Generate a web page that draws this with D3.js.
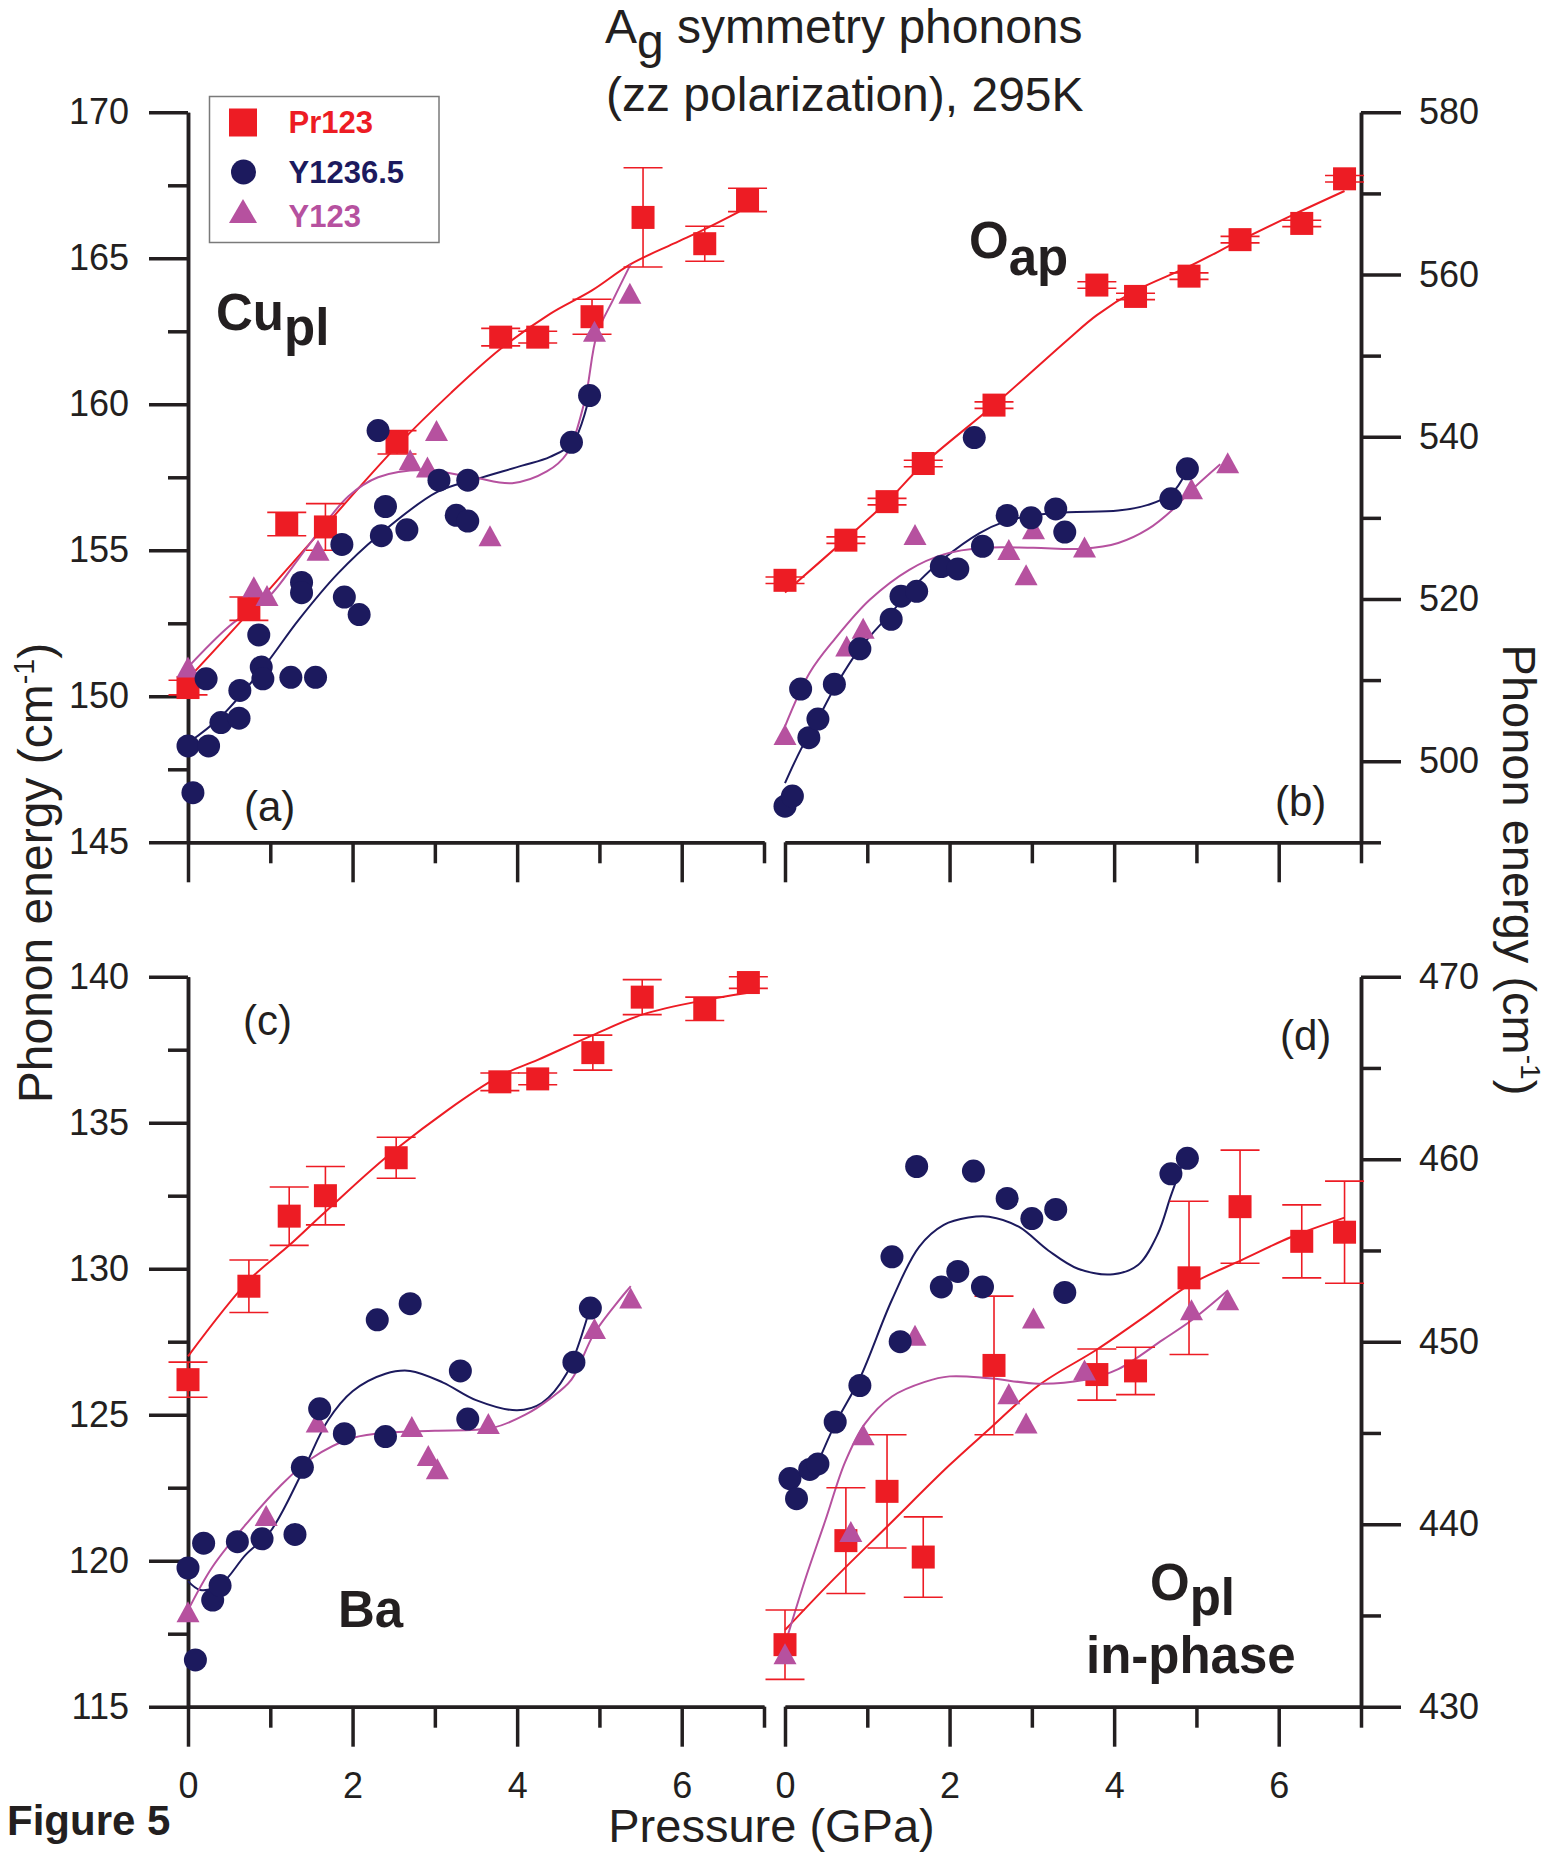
<!DOCTYPE html>
<html>
<head>
<meta charset="utf-8">
<script src="https://cdn.jsdelivr.net/npm/d3@7"></script>
<style>
  body { margin: 0; background: #fff; }
  svg { display: block; }
  svg text { font-family: 'Liberation Sans', Arial, Helvetica, sans-serif; }
</style>
</head>
<body>
<div class="canvas"></div>
<script>
// pressure ticks (GPa), shared by all panels
const pressureMajor = [0, 2, 4, 6];
const pressureMinor = [1, 3, 5, 7];

// energy ticks (cm-1)
const cuMajor = [145, 150, 155, 160, 165, 170];
const cuMinor = [147.5, 152.5, 157.5, 162.5, 167.5];
const apMajor = [500, 520, 540, 560, 580];
const apMinor = [490, 510, 530, 550, 570];
const baMajor = [115, 120, 125, 130, 135, 140];
const baMinor = [117.5, 122.5, 127.5, 132.5, 137.5];
const plMajor = [430, 440, 450, 460, 470];
const plMinor = [435, 445, 455, 465];

const seriesNames = ['Pr123', 'Y1236.5', 'Y123'];

// (a) Cu_pl : [pressure, energy, error]
const cuPr123 = [[0, 150.3, 0.25], [0.74, 153.0, 0.4], [1.2, 155.9, 0.4], [1.67, 155.8, 0.8], [2.54, 158.7, 0.4], [3.8, 162.3, 0.3], [4.25, 162.3, 0.2], [4.91, 163.0, 0.6], [5.53, 166.4, 1.7], [6.28, 165.5, 0.6], [6.8, 167.0, 0.4]];
const cuY1236 = [[0, 148.3], [0.06, 146.7], [0.22, 150.6], [0.25, 148.3], [0.4, 149.1], [0.62, 149.25], [0.63, 150.2], [0.86, 152.1], [0.89, 151.0], [0.91, 150.6], [1.25, 150.65], [1.38, 153.9], [1.38, 153.55], [1.55, 150.65], [1.87, 155.2], [1.9, 153.4], [2.08, 152.8], [2.31, 159.1], [2.35, 155.5], [2.4, 156.5], [2.66, 155.7], [3.05, 157.4], [3.26, 156.2], [3.4, 156.0], [3.4, 157.4], [4.66, 158.7], [4.88, 160.3]];
const cuY123 = [[0, 151.0], [0.8, 153.75], [0.96, 153.45], [1.58, 155.0], [2.7, 158.1], [2.91, 157.85], [3.02, 159.1], [3.67, 155.5], [4.94, 162.5], [5.37, 163.8]];
const cuPr123Fit = [[0, 150.6], [0.75, 152.9], [1.5, 155.3], [2.55, 158.6], [3.2, 160.4], [3.8, 161.9], [4.4, 163.1], [4.91, 163.9], [5.38, 164.8], [5.9, 165.5], [6.28, 166.0], [6.7, 166.6]];
const cuY1236Fit = [[0, 148.4], [0.4, 149.3], [0.92, 151.0], [1.34, 152.6], [1.82, 154.2], [2.31, 155.5], [3.03, 157.0], [3.52, 157.45], [4.06, 157.9], [4.4, 158.2], [4.68, 158.7], [4.88, 160.3]];
const cuY123Fit = [[0, 151.0], [0.5, 152.4], [0.98, 153.4], [1.34, 154.7], [1.58, 155.6], [1.95, 156.85], [2.31, 157.5], [2.85, 157.75], [3.46, 157.5], [3.94, 157.3], [4.36, 157.7], [4.6, 158.3], [4.82, 160.1], [4.97, 162.4], [5.17, 163.6], [5.38, 164.8]];

// (b) O_ap
const apPr123 = [[0, 522.3, 0.4], [0.74, 527.25, 0.4], [1.24, 532.0, 0.4], [1.68, 536.7, 0.4], [2.54, 543.9, 0.4], [3.79, 558.7, 0.4], [4.26, 557.3, 0.4], [4.91, 559.8, 0.4], [5.53, 564.3, 0.4], [6.28, 566.3, 0.4], [6.8, 571.8, 0.4]];
const apY1236 = [[0, 494.45], [0.09, 495.7], [0.19, 508.9], [0.29, 502.9], [0.4, 505.2], [0.6, 509.5], [0.91, 513.85], [1.29, 517.5], [1.41, 520.35], [1.6, 520.95], [1.9, 524.0], [2.1, 523.7], [2.3, 539.9], [2.4, 526.5], [2.7, 530.3], [2.99, 530.0], [3.29, 531.1], [3.4, 528.25], [4.69, 532.35], [4.89, 536.05]];
const apY123 = [[0, 503.3], [0.75, 514.2], [0.95, 516.4], [1.58, 527.95], [2.72, 526.1], [2.93, 523.0], [3.02, 528.65], [3.64, 526.4], [4.94, 533.6], [5.38, 536.8]];
const apPr123Fit = [[0, 520.8], [0.74, 527.4], [1.24, 532.0], [1.68, 536.6], [2.54, 543.9], [3.44, 552.0], [3.79, 555.0], [4.26, 558.0], [4.91, 561.0], [5.53, 564.2], [6.16, 567.3], [6.8, 570.3]];
const apY1236Fit = [[0, 497.3], [0.19, 501.4], [0.4, 505.2], [0.6, 509.0], [0.91, 513.9], [1.29, 518.3], [1.63, 522.2], [1.93, 525.0], [2.36, 528.1], [2.66, 529.5], [2.99, 530.3], [3.44, 530.7], [4.05, 530.9], [4.41, 531.6], [4.69, 532.9], [4.89, 535.9]];
const apY123Fit = [[0, 504.3], [0.3, 510.9], [0.6, 515.0], [1.03, 519.9], [1.51, 523.6], [1.93, 525.5], [2.42, 526.3], [3.02, 526.3], [3.62, 526.2], [4.05, 526.9], [4.41, 528.6], [4.71, 531.0], [4.95, 533.5], [5.29, 536.6]];

// (c) Ba
const baPr123 = [[0, 126.2, 0.6], [0.74, 129.4, 0.9], [1.23, 131.8, 1.0], [1.67, 132.5, 1.0], [2.53, 133.8, 0.7], [3.79, 136.4, 0.3], [4.25, 136.5, 0.2], [4.92, 137.4, 0.6], [5.52, 139.3, 0.6], [6.28, 138.9, 0.4], [6.81, 139.8, 0.2]];
const baY1236 = [[0, 119.75], [0.09, 116.6], [0.19, 120.6], [0.3, 118.65], [0.39, 119.15], [0.6, 120.65], [0.9, 120.75], [1.3, 120.9], [1.39, 123.2], [1.6, 125.2], [1.9, 124.35], [2.3, 128.25], [2.4, 124.25], [2.7, 128.8], [3.31, 126.5], [3.4, 124.85], [4.69, 126.8], [4.89, 128.65]];
const baY123 = [[0, 118.25], [0.95, 121.55], [1.57, 124.75], [2.72, 124.6], [2.92, 123.6], [3.03, 123.15], [3.65, 124.7], [4.94, 127.95], [5.38, 129.0]];
const baPr123Fit = [[0, 127.0], [0.74, 129.6], [1.23, 130.8], [1.67, 131.95], [2.53, 134.1], [3.76, 136.55], [4.25, 137.15], [4.92, 138.0], [5.52, 138.7], [6.28, 139.2], [6.81, 139.45]];
const baY1236Fit = [[0, 119.3], [0.15, 119.0], [0.4, 119.2], [0.7, 120.2], [1.0, 121.0], [1.4, 123.1], [1.7, 124.8], [2.0, 125.8], [2.4, 126.4], [2.7, 126.5], [3.1, 126.1], [3.5, 125.5], [4.0, 125.15], [4.3, 125.4], [4.6, 126.4], [4.88, 128.6]];
const baY123Fit = [[0, 118.3], [0.3, 119.8], [0.75, 121.4], [1.1, 122.5], [1.5, 123.5], [2.0, 124.2], [2.5, 124.4], [3.0, 124.45], [3.7, 124.55], [4.1, 125.0], [4.4, 125.55], [4.66, 126.2], [4.94, 127.8], [5.38, 129.4]];

// (d) O_pl in-phase
const plPr123 = [[0, 433.4, 1.9], [0.74, 439.1, 2.9], [1.24, 441.8, 3.1], [1.68, 438.2, 2.2], [2.54, 448.7, 3.8], [3.79, 448.2, 1.4], [4.26, 448.4, 1.3], [4.91, 453.5, 4.2], [5.53, 457.4, 3.1], [6.28, 455.5, 2.0], [6.8, 456.0, 2.8]];
const plY1236 = [[0.06, 442.5], [0.14, 441.4], [0.3, 443.0], [0.4, 443.3], [0.61, 445.6], [0.91, 447.6], [1.3, 454.65], [1.4, 450.0], [1.6, 459.6], [1.9, 453.0], [2.1, 453.85], [2.29, 459.35], [2.4, 453.0], [2.7, 457.85], [3.0, 456.75], [3.29, 457.25], [3.4, 452.7], [4.69, 459.2], [4.89, 460.05]];
const plY123 = [[0, 432.9], [0.8, 439.6], [0.95, 444.9], [1.58, 450.35], [2.72, 447.15], [2.93, 445.55], [3.02, 451.3], [3.64, 448.45], [4.94, 451.75], [5.38, 452.3]];
const plPr123Fit = [[0, 434.2], [0.55, 436.8], [1.27, 440.0], [1.99, 443.2], [2.48, 445.2], [3.08, 447.6], [3.8, 449.6], [4.41, 451.5], [4.91, 453.1], [5.56, 454.5], [6.16, 455.75], [6.8, 456.8]];
const plY1236Fit = [[0.33, 442.6], [0.6, 445.4], [0.91, 448.0], [1.3, 452.3], [1.63, 455.2], [1.93, 456.4], [2.23, 456.8], [2.48, 456.85], [2.84, 456.3], [3.2, 455.0], [3.56, 454.0], [3.99, 453.7], [4.29, 454.2], [4.53, 455.9], [4.69, 458.0], [4.85, 460.0]];
const plY123Fit = [[0, 433.4], [0.24, 436.9], [0.49, 440.2], [0.73, 443.4], [0.97, 445.5], [1.3, 447.0], [1.7, 447.8], [2.0, 448.1], [2.48, 448.0], [3.08, 447.7], [3.63, 447.9], [4.05, 448.5], [4.59, 450.1], [4.95, 451.2], [5.38, 452.8]];

// ---------------------------------------------------------------

const W = 1551, H = 1854;
const ink = '#231f20';
const color = d3.scaleOrdinal().domain(seriesNames).range(['#ed1c24', '#1c1a5e', '#b6519f']);

const svg = d3.select('.canvas').append('svg').attr('width', W).attr('height', H);
svg.append('rect').attr('width', W).attr('height', H).attr('fill', '#fff');

const frame = {
  top: [842.3, 112.3], bottom: [1706.7, 976.7],
  left: [188, 764], right: [785, 1361]
};

const panels = [
  { tag: '(a)', tagAt: [244, 821], xr: frame.left, yr: frame.top, domain: [145, 170], major: cuMajor, minor: cuMinor, side: 'left', xLabels: false,
    pr: cuPr123, prFit: cuPr123Fit, y65: cuY1236, y65Fit: cuY1236Fit, y7: cuY123, y7Fit: cuY123Fit },
  { tag: '(b)', tagAt: [1275, 816], xr: frame.right, yr: frame.top, domain: [490, 580], major: apMajor, minor: apMinor, side: 'right', xLabels: false,
    pr: apPr123, prFit: apPr123Fit, y65: apY1236, y65Fit: apY1236Fit, y7: apY123, y7Fit: apY123Fit },
  { tag: '(c)', tagAt: [243, 1035], xr: frame.left, yr: frame.bottom, domain: [115, 140], major: baMajor, minor: baMinor, side: 'left', xLabels: true,
    pr: baPr123, prFit: baPr123Fit, y65: baY1236, y65Fit: baY1236Fit, y7: baY123, y7Fit: baY123Fit },
  { tag: '(d)', tagAt: [1280, 1050], xr: frame.right, yr: frame.bottom, domain: [430, 470], major: plMajor, minor: plMinor, side: 'right', xLabels: true,
    pr: plPr123, prFit: plPr123Fit, y65: plY1236, y65Fit: plY1236Fit, y7: plY123, y7Fit: plY123Fit }
];

const styleAxis = sel => {
  sel.attr('font-family', null).attr('font-size', null);
  sel.select('.domain').attr('stroke', ink).attr('stroke-width', 3.5);
  sel.selectAll('.tick line').attr('stroke', ink).attr('stroke-width', 3.5);
  sel.selectAll('.tick text').attr('font-size', 36).attr('fill', ink);
};

const triangle = (cx, cy, w, h) => `M${cx},${cy - h / 2}L${cx + w / 2},${cy + h / 2}L${cx - w / 2},${cy + h / 2}Z`;

const drawPanel = p => {
  const x = d3.scaleLinear().domain([0, 7]).range(p.xr);
  const y = d3.scaleLinear().domain(p.domain).range(p.yr);
  const g = svg.append('g');

  // pressure axis
  g.append('g').attr('transform', `translate(0,${p.yr[0]})`)
    .call(d3.axisBottom(x).tickValues(pressureMinor).tickSize(21).tickSizeOuter(0).tickFormat(''))
    .call(styleAxis);
  g.append('g').attr('transform', `translate(0,${p.yr[0]})`)
    .call(d3.axisBottom(x).tickValues(pressureMajor).tickSize(40).tickSizeOuter(0).tickPadding(26)
      .tickFormat(p.xLabels ? d3.format('d') : ''))
    .call(styleAxis);

  // energy axis
  if (p.side === 'left') {
    g.append('g').attr('transform', `translate(${p.xr[0]},0)`)
      .call(d3.axisLeft(y).tickValues(p.minor).tickSize(20).tickSizeOuter(0).tickFormat(''))
      .call(styleAxis);
    g.append('g').attr('transform', `translate(${p.xr[0]},0)`)
      .call(d3.axisLeft(y).tickValues(p.major).tickSize(39).tickSizeOuter(0).tickPadding(20).tickFormat(d3.format('d')))
      .call(styleAxis);
  } else {
    g.append('g').attr('transform', `translate(${p.xr[1]},0)`)
      .call(d3.axisRight(y).tickValues(p.minor).tickSize(20).tickSizeOuter(0).tickFormat(''))
      .call(styleAxis);
    g.append('g').attr('transform', `translate(${p.xr[1]},0)`)
      .call(d3.axisRight(y).tickValues(p.major).tickSize(40).tickSizeOuter(0).tickPadding(18).tickFormat(d3.format('d')))
      .call(styleAxis);
  }

  // fitted curves
  const line = d3.line().x(d => x(d[0])).y(d => y(d[1])).curve(d3.curveCatmullRom.alpha(0.5));
  [[p.prFit, 'Pr123'], [p.y65Fit, 'Y1236.5'], [p.y7Fit, 'Y123']].forEach(([pts, name]) => {
    g.append('path').attr('d', line(pts)).attr('fill', 'none')
      .attr('stroke', color(name)).attr('stroke-width', 2);
  });

  // Pr123 error bars
  const red = color('Pr123');
  const bars = g.append('g').attr('stroke', red).attr('stroke-width', 1.6);
  bars.selectAll('line.v').data(p.pr).join('line').attr('class', 'v')
    .attr('x1', d => x(d[0])).attr('x2', d => x(d[0]))
    .attr('y1', d => y(d[1] - d[2])).attr('y2', d => y(d[1] + d[2]));
  bars.selectAll('line.cap').data(p.pr.flatMap(d => [[d[0], d[1] - d[2]], [d[0], d[1] + d[2]]])).join('line').attr('class', 'cap')
    .attr('x1', d => x(d[0]) - 19.5).attr('x2', d => x(d[0]) + 19.5)
    .attr('y1', d => y(d[1])).attr('y2', d => y(d[1]));

  // Pr123 squares
  g.selectAll('rect.pr').data(p.pr).join('rect').attr('class', 'pr')
    .attr('x', d => x(d[0]) - 11.5).attr('y', d => y(d[1]) - 11.5)
    .attr('width', 23).attr('height', 23).attr('fill', red);

  // Y123 triangles
  g.selectAll('path.y7').data(p.y7).join('path').attr('class', 'y7')
    .attr('d', d => triangle(x(d[0]), y(d[1]), 23, 21)).attr('fill', color('Y123'));

  // Y1236.5 circles
  g.selectAll('circle.y65').data(p.y65).join('circle').attr('class', 'y65')
    .attr('cx', d => x(d[0])).attr('cy', d => y(d[1])).attr('r', 11.5).attr('fill', color('Y1236.5'));

  // panel tag
  g.append('text').attr('x', p.tagAt[0]).attr('y', p.tagAt[1])
    .attr('font-size', 42).attr('fill', ink).text(p.tag);
};

panels.forEach(drawPanel);

// mode names
const modeLabel = (x, y, main, sub, dy) => {
  const t = svg.append('text').attr('x', x).attr('y', y)
    .attr('font-size', 51).attr('font-weight', 'bold').attr('fill', ink);
  t.append('tspan').text(main);
  if (sub) t.append('tspan').attr('dy', dy).text(sub);
  return t;
};
modeLabel(216, 330, 'Cu', 'pl', 15);
modeLabel(969, 258, 'O', 'ap', 17);
modeLabel(338, 1627, 'Ba');
modeLabel(1150, 1600, 'O', 'pl', 15);
modeLabel(1086, 1673, 'in-phase');

// title
const title = svg.append('g').attr('fill', ink).attr('font-size', 48);
const t1 = title.append('text').attr('x', 605).attr('y', 43);
t1.append('tspan').text('A');
t1.append('tspan').attr('dy', 15).text('g');
t1.append('tspan').attr('dy', -15).text(' symmetry phonons');
title.append('text').attr('x', 606).attr('y', 111).text('(zz polarization), 295K');

// axis titles
const energyTitle = (tx, ty, rot, size) => {
  const t = svg.append('text')
    .attr('transform', `translate(${tx},${ty}) rotate(${rot})`)
    .attr('text-anchor', 'middle').attr('font-size', size).attr('fill', ink);
  t.append('tspan').text('Phonon energy (cm');
  t.append('tspan').attr('font-size', size * 0.6).attr('dy', -size * 0.38).text('-1');
  t.append('tspan').attr('dy', size * 0.38).text(')');
};
energyTitle(52, 873, -90, 48);
energyTitle(1503, 870, 90, 47);

svg.append('text').attr('x', 771.5).attr('y', 1842).attr('text-anchor', 'middle')
  .attr('font-size', 47).attr('fill', ink).text('Pressure (GPa)');

svg.append('text').attr('x', 7).attr('y', 1835)
  .attr('font-size', 42).attr('font-weight', 'bold').attr('fill', ink).text('Figure 5');

// legend
const legend = svg.append('g');
legend.append('rect').attr('x', 209.5).attr('y', 96.5).attr('width', 229.5).attr('height', 146)
  .attr('fill', '#fff').attr('stroke', '#7a7a7a').attr('stroke-width', 1.5);
const legendRows = [122.5, 172, 211];
const legendBase = [133, 182.7, 226.7];
legend.append('rect').attr('x', 229).attr('y', legendRows[0] - 14).attr('width', 28).attr('height', 28).attr('fill', color('Pr123'));
legend.append('circle').attr('cx', 243.5).attr('cy', legendRows[1]).attr('r', 12.5).attr('fill', color('Y1236.5'));
legend.append('path').attr('d', triangle(243, legendRows[2], 28, 24)).attr('fill', color('Y123'));
legend.selectAll('text').data(seriesNames).join('text')
  .attr('x', 288.5).attr('y', (d, i) => legendBase[i])
  .attr('font-size', 31).attr('font-weight', 'bold')
  .attr('fill', d => color(d)).text(d => d);
</script>
</body>
</html>
